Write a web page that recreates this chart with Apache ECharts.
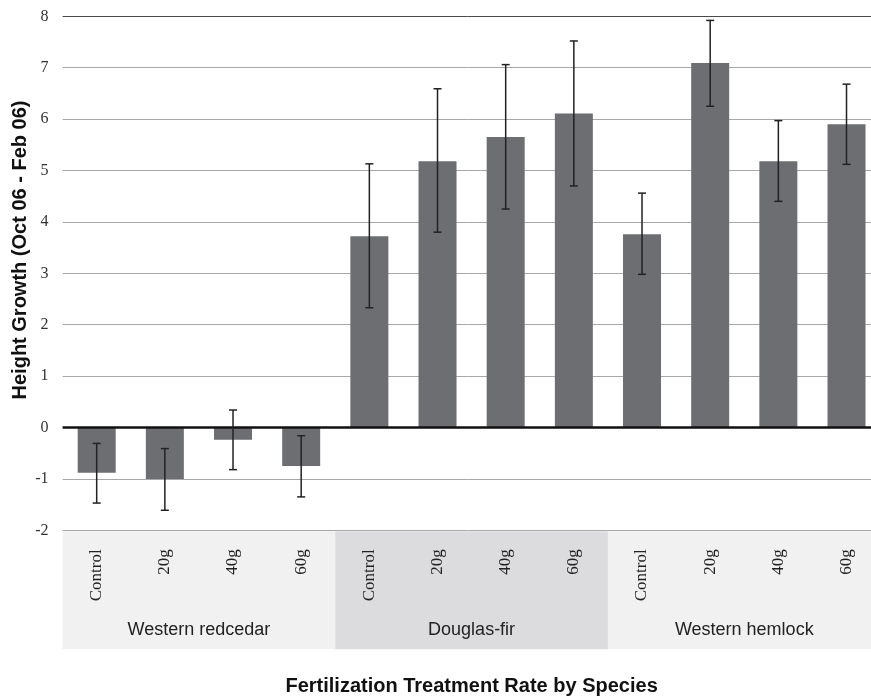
<!DOCTYPE html>
<html>
<head>
<meta charset="utf-8">
<script src="https://cdn.jsdelivr.net/npm/echarts@6/dist/echarts.min.js"></script>
<style>
html,body{margin:0;padding:0;background:#fff;}
#chart{width:871px;height:698px;}
</style>
</head>
<body>
<div id="chart"></div>
<script>
// ---- data ----
const categories = ['Control','20g','40g','60g','Control','20g','40g','60g','Control','20g','40g','60g'];
const species = ['Western redcedar','Douglas-fir','Western hemlock'];
const means   = [-0.88,-1.00,-0.24,-0.75, 3.72,5.18,5.65,6.11, 3.76,7.09,5.18,5.90];
const errLow  = [-1.47,-1.61,-0.82,-1.35, 2.33,3.80,4.25,4.70, 2.98,6.25,4.40,5.12];
const errHigh = [-0.31,-0.41, 0.34,-0.16, 5.13,6.59,7.06,7.52, 4.56,7.92,5.97,6.68];
const yMin = -2, yMax = 8, yStep = 1;
const yTitle = 'Height Growth (Oct 06 - Feb 06)';
const xTitle = 'Fertilization Treatment Rate by Species';

// ---- styles ----
const bandColors = ['#f1f1f1','#dcdcde','#f1f1f1'];
const nLines = (yMax - yMin) / yStep + 1;
const splitColors = Array.from({length: nLines}, (_, i) => i === nLines - 1 ? '#4a4a4a' : '#a8a8a8');

const chart = echarts.init(document.getElementById('chart'), null, {renderer: 'canvas'});
chart.setOption({
  animation: false,
  backgroundColor: '#ffffff',
  grid: [
    {left: 62.6, top: 16.3, width: 818, bottom: 167.7, containLabel: false, outerBoundsMode: 'none'},
    {left: 62.6, top: 531.3, width: 818, height: 118, containLabel: false, outerBoundsMode: 'none'}
  ],
  xAxis: [
    {
      gridIndex: 0, type: 'category', data: categories, z: 10,
      axisLine: {show: false}, axisTick: {show: false},
      axisLabel: {rotate: 90, margin: 19, fontFamily: '"Liberation Serif", serif', fontSize: 17, color: '#222'},
      name: xTitle, nameLocation: 'middle', nameGap: 146,
      nameTextStyle: {fontFamily: '"Liberation Sans", Arial, sans-serif', fontWeight: 'bold', fontSize: 20, color: '#111'}
    },
    {
      gridIndex: 1, type: 'category', data: species,
      axisLine: {show: false}, axisTick: {show: false}, axisLabel: {show: false}
    }
  ],
  yAxis: [
    {
      gridIndex: 0, type: 'value', min: yMin, max: yMax, interval: yStep,
      axisLine: {show: false}, axisTick: {show: false},
      axisLabel: {margin: 14, fontFamily: '"Liberation Serif", serif', fontSize: 16, color: '#333'},
      splitLine: {show: true, lineStyle: {color: splitColors, width: 1}}
    },
    {
      gridIndex: 1, type: 'value', min: 0, max: 1, show: false, splitLine: {show: false}
    }
  ],
  graphic: [
    {
      type: 'text', x: 20, y: 250, rotation: Math.PI / 2,
      style: {text: yTitle, x: 0, y: 0, align: 'center', verticalAlign: 'middle',
        font: 'bold 20px "Liberation Sans", Arial, sans-serif', fill: '#111'}
    }
  ],
  series: [
    {
      type: 'bar', xAxisIndex: 1, yAxisIndex: 1, z: 0,
      barWidth: '100%', silent: true,
      data: species.map((s, i) => ({value: 1, itemStyle: {color: bandColors[i]}})),
      label: {show: true, position: 'insideBottom', distance: 10, formatter: '{b}',
        fontFamily: '"Liberation Sans", Arial, sans-serif', fontSize: 18, color: '#222'}
    },
    {
      type: 'bar', xAxisIndex: 0, yAxisIndex: 0,
      barWidth: 38, data: means,
      itemStyle: {color: '#6d6e71'},
      markLine: {
        silent: true, symbol: 'none', label: {show: false},
        lineStyle: {color: '#111', width: 2.5, type: 'solid'},
        data: [{yAxis: 0}]
      }
    },
    {
      type: 'custom', xAxisIndex: 0, yAxisIndex: 0, z: 5,
      data: categories.map((c, i) => [i, errLow[i], errHigh[i]]),
      encode: {x: 0, y: [1, 2]},
      renderItem: function (params, api) {
        const lo = api.coord([api.value(0), api.value(1)]);
        const hi = api.coord([api.value(0), api.value(2)]);
        const h = 4;
        const st = {stroke: '#222', lineWidth: 1.5};
        return {type: 'group', children: [
          {type: 'line', shape: {x1: lo[0], y1: lo[1], x2: hi[0], y2: hi[1]}, style: st},
          {type: 'line', shape: {x1: lo[0] - h, y1: lo[1], x2: lo[0] + h, y2: lo[1]}, style: st},
          {type: 'line', shape: {x1: hi[0] - h, y1: hi[1], x2: hi[0] + h, y2: hi[1]}, style: st}
        ]};
      }
    }
  ]
});
</script>
</body>
</html>
